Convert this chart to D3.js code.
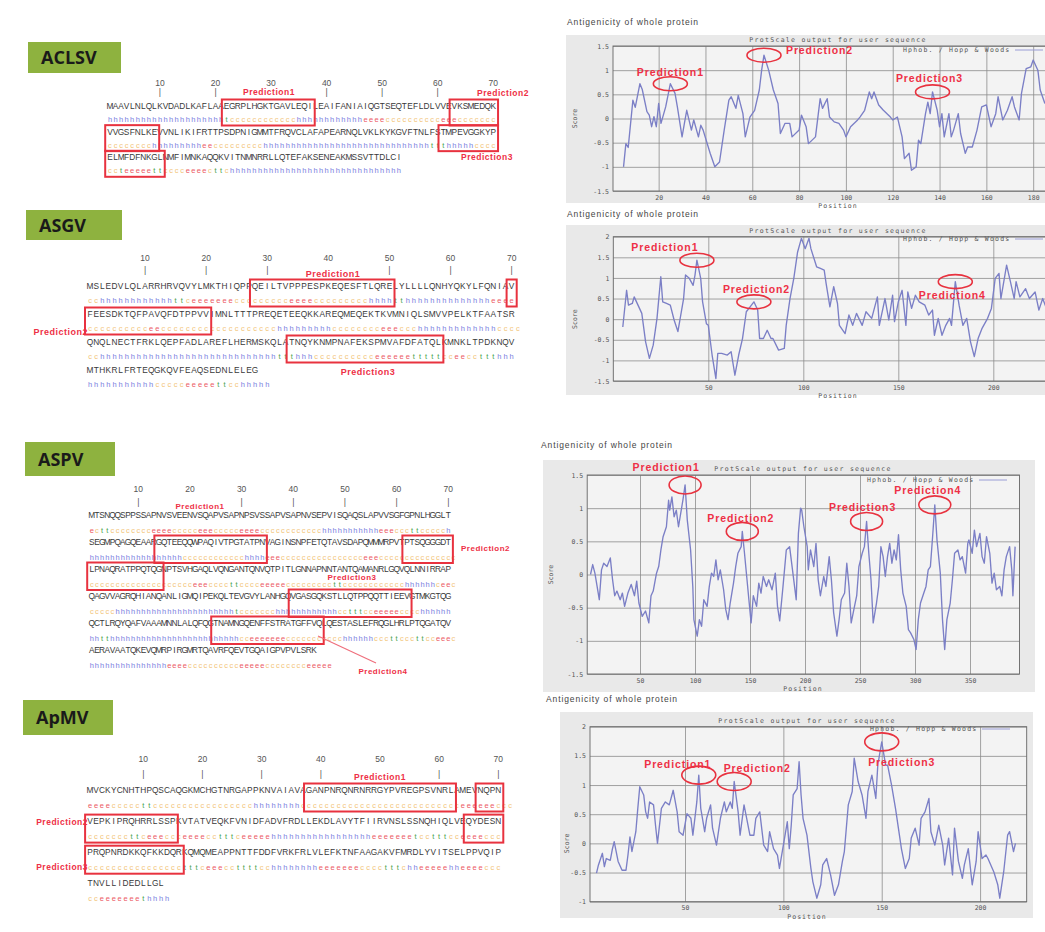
<!DOCTYPE html>
<html>
<head>
<meta charset="utf-8">
<script src="https://cdn.jsdelivr.net/npm/d3@7"></script>
<style>
  body { margin: 0; background: #fff; }
  svg { display: block; }
  .seq { font-family: "Liberation Sans", Arial, sans-serif; font-size: 8.3px; fill: #383838; text-anchor: middle; }
  .ss { font-family: "Liberation Sans", Arial, sans-serif; font-size: 7.5px; text-anchor: middle; }
  .ruler { font-family: "Liberation Sans", Arial, sans-serif; font-size: 8.5px; fill: #555; text-anchor: middle; }
  .tag { font-family: "Open Sans", "Liberation Sans", sans-serif; font-weight: bold; font-size: 18px; fill: #1a1a1a; }
  .pred { font-family: "Liberation Sans", Arial, sans-serif; font-weight: bold; fill: #ee3046; }
  .ttl { font-family: "Liberation Sans", Arial, sans-serif; font-size: 8.5px; fill: #444; letter-spacing: 0.9px; }
  .mono { font-family: "DejaVu Sans Mono", monospace; font-size: 6.5px; fill: #555; }
</style>
</head>
<body>
<div id="chart"></div>
<script>
var width = 1045,
    height = 932;

var svg = d3.select("#chart")
  .append("svg")
  .attr("width", width)
  .attr("height", height);

// ---------------- data ----------------

var virusNames = ["ACLSV", "ASGV", "ASPV", "ApMV"];
var predNames = ["Prediction1", "Prediction2", "Prediction3", "Prediction4"];

// sequences (70 residues per row) + SOPMA-like secondary structure
var aclsvSeq = [
  "MAAVLNLQLKVDADLKAFLAAEGRPLHGKTGAVLEQILEAIFANIAIQGTSEQTEFLDLVVEVKSMEDQK",
  "VVGSFNLKEVVNLIKIFRTTPSDPNIGMMTFRQVCLAFAPEARNQLVKLKYKGVFTNLFSTMPEVGGKYP",
  "ELMFDFNKGLNMFIMNKAQQKVITNMNRRLLQTEFAKSENEAKMSSVTTDLCI"
];
var aclsvSS = [
  "hhhhhhhhhhhhhhhhhhhhhtcccccccccccchhhhhhhhhhhheeeecccccccccceeeccccccc",
  "cccccccchhhhhhhhheeccccccccchhhhhhhhhhhhhhhhhhhhhhhhhhhhhhttthhhhhcccc",
  "ccteeeeettcccceeeecttchhhhhhhhhhhhhhhhhhhhhhhhhhhhhhh"
];
var asgvSeq = [
  "MSLEDVLQLARRHRVQVYLMKTHIQPPQEILTVPPPESPKEQESFTLQRELYLLLLQNHYQKYLFQNIAV",
  "FEESDKTQFPAVQFDTPPVVIMNLTTTPREQETEEQKKAREQMEQEKTKVMNIQLSMVVPELKTFAATSR",
  "QNQLNECTFRKLQEPFADLAREFLHERMSKQLATNQYKNMPNAFEKSPMVAFDFATQLKMNKLTPDKNQV",
  "MTHKRLFRTEQGKQVFEAQSEDNLELEG"
];
var asgvSS = [
  "cchhhhhhhhhhhhttceeeeeeeccccccccceeeeccccccccchhhhtthhhhhhhhhhhhhheeee",
  "cccccccccceeccccccccccccccccccchhhhhhhhhcccccccceeeccchhhhhhhhhhhhhcccc",
  "cchhhhhhhhhhhhhhhhhhhhhhhhhhhhhttthhhcccccccccceeeeeetttttcceeccttthhh",
  "hhhhhhhhhhhccccceeeeettcchhhhh"
];
var aspvSeq = [
  "MTSNQQSPPSSAPNVSVEENVSQAPVSAPNPSVSSAPVSAPNVSEPVISQAQSLAPVVSGFGPNLHGGLT",
  "SEGMPQAGQEAARGQTEEQQWPAQIVTPGTATPNVAGINSNPFETQTAVSDAPQMMMRPVTPTSQGGGDT",
  "LPNAQRATPPQTQGNPTSVHGAQLVQNGANTQNVQTPITLGNNAPNNTANTQAMANRLGQVQLNNIRRAP",
  "QAGVVAGRQHIANQANLIGMQIPEKQLTEVGVYLANHGQVGASGQKSTLLQTPPQQTTIEEVGTMKGTQG",
  "QCTLRQYQAFVAAAMNNLALQFQGTNAMNGQENFFSTRATGFFVQLQESTASLEFRQGLHRLPTQGATQV",
  "AERAVAATQKEVQMRPIRGMRTQAVRFQEVTGQAIGPVPVLSRK"
];
var aspvSS = [
  "ecttcccccccceeeeccccceeeccccceeeecccccccccccchhhhhhhhhhheeecccttccccch",
  "hhhhhhhhhhhhhhhhhhcccccccccccchhhheeecccccccccccccccceeeccccccccccccccc",
  "cccccccccccccccccccceeeccccttcccceeeeecccccccccttcccccccccccchhhhhhceec",
  "ccccchhhhhhhhhhhhhhhhhhhhhhhtccccccchhhhhhhhhhhhcctttcceeeeecccchhhhhh",
  "hhtthhhhhhhhhhhhhhhhhhhhhhhhhcceeeeeeeccccccccccchhhhhhcccttcccttcceeec",
  "hhhhhhhhhhhhhhheeeecccccccccceeeeecccccccceeeee"
];
var apmvSeq = [
  "MVCKYCNHTHPQSCAQGKMCHGTNRGAPPKNVAIAVAGANPNRQNRNRRGYPVREGPSVNRLAMEVNQPN",
  "VEPKIPRQHRRLSSPKVTATVEQKFVNIDFADVFRDLLEKDLAVYTFIIRVNSLSSNQHIQLVEQYDESN",
  "PRQPNRDKKQFKKDQRKQMQMEAPPNTTFDDFVRKFRLVLEFKTNFAAGAKVFMRDLYVITSELPPVQIP",
  "TNVLLIDEDLLGL"
];
var apmvSS = [
  "eeeecccccttccccccccccccccccchhhhhhhhccccccccccccccccccccccccccceeeeeeccc",
  "cccccccttceeeccceeeecctttceeeeehhhhhhhhhhhhhhhhheeeeeeetcctttcceeeeccc",
  "cccccccccccccccctttceeeccttttcchhhhhhhheeeeeeecccctttchheeeeehheeeeccc",
  "cceeeeeeethhhh"
];

// predicted epitope stretches (residue numbers)
var aclsvRanges = [[22, 37], [63, 79], [131, 150]];
var asgvRanges = [[28, 50], [70, 90], [174, 198]];
var aspvRanges = [[84, 104], [132, 154], [250, 272], [305, 325]];
var apmvRanges = [[38, 62], [67, 85], [135, 156]];

// Hopp & Woods profiles [position, score]
var aclsvProfile = [[5,-1.0],[6,-0.52],[7,-0.6],[9,0.38],[10,0.23],[12,0.72],[13,0.6],[15,0.14],[16,0.07],[17,-0.17],[18,0.04],[19,-0.17],[20,0.31],[21,-0.1],[23,0.24],[25,0.72],[27,0.52],[28,0.24],[30,-0.38],[31,-0.1],[32,0.17],[34,-0.24],[35,-0.03],[37,-0.38],[38,-0.14],[39,-0.24],[42,-0.72],[44,-1.0],[46,-0.9],[48,-0.24],[50,0.38],[51,0.45],[53,0.21],[54,0.48],[56,0.1],[57,-0.38],[59,0.03],[61,0.17],[63,0.59],[64,1.0],[65,1.31],[67,1.0],[69,0.59],[71,0.31],[72,-0.31],[74,-0.1],[76,-0.1],[77,-0.38],[80,-0.24],[81,0.07],[83,-0.17],[84,-0.52],[87,-0.38],[89,0.41],[90,0.21],[92,0.41],[93,0.03],[95,-0.07],[97,-0.1],[99,-0.24],[100,-0.38],[102,-0.17],[105,-0.03],[106,0.03],[108,0.17],[110,0.55],[111,0.41],[112,0.55],[114,0.28],[116,0.17],[119,0.03],[120,-0.03],[122,0.03],[124,-0.38],[125,-0.83],[127,-0.72],[128,-1.07],[130,-1.0],[131,-0.45],[132,-0.52],[134,0.1],[135,0.34],[136,0.1],[137,0.55],[139,0.17],[140,-0.17],[141,0.1],[142,-0.38],[144,0.1],[145,-0.38],[146,-0.24],[148,0.1],[149,-0.31],[151,-0.72],[152,-0.59],[154,-0.59],[156,-0.24],[158,0.24],[160,0.28],[162,-0.17],[164,0.1],[165,0.45],[167,-0.03],[169,0.17],[171,0.45],[172,0.24],[174,-0.03],[175,0.52],[177,1.03],[179,1.07],[180,1.21],[182,1.0],[183,0.59],[185,0.31]];
var asgvProfile = [[5,-0.19],[7,0.70],[8,0.34],[10,0.38],[11,0.54],[13,0.34],[15,0.14],[17,-0.55],[19,-0.95],[21,-0.63],[23,0.02],[25,1.03],[26,0.42],[28,0.38],[30,0.34],[32,-0.02],[34,-0.30],[37,0.50],[38,1.07],[40,0.99],[42,0.82],[43,1.07],[44,1.43],[46,0.99],[47,0.42],[49,-0.11],[50,-0.15],[52,-0.87],[54,-1.44],[55,-0.83],[57,-0.83],[60,-0.87],[62,-0.79],[64,-1.36],[66,-0.87],[68,-0.47],[70,0.18],[72,0.30],[74,0.42],[76,0.22],[77,-0.47],[79,-0.47],[81,-0.27],[83,-0.47],[84,-0.47],[87,-0.75],[90,-0.71],[91,-0.15],[93,0.50],[95,0.99],[97,1.63],[99,1.96],[101,1.71],[103,1.96],[104,1.71],[107,1.27],[109,1.23],[111,1.19],[112,0.87],[114,0.30],[116,0.79],[118,0.38],[119,-0.15],[122,-0.35],[124,0.10],[126,-0.15],[128,0.14],[131,-0.15],[133,0.18],[136,0.02],[139,0.54],[140,-0.15],[143,0.50],[145,-0.02],[147,0.58],[148,-0.06],[150,0.42],[152,0.70],[154,-0.15],[155,0.66],[157,0.26],[159,0.58],[161,0.42],[164,0.34],[166,0.10],[168,0.22],[169,-0.39],[171,0.02],[173,-0.39],[175,-0.15],[177,0.02],[178,-0.15],[180,0.91],[182,0.34],[184,-0.15],[186,0.02],[188,-0.55],[190,-0.91],[192,-0.47],[194,-0.23],[197,0.02],[199,0.26],[201,0.99],[203,1.11],[204,0.50],[207,1.31],[209,0.91],[211,0.50],[212,0.91],[214,0.54],[217,0.74],[219,0.50],[222,0.66],[224,0.22],[226,0.50],[228,0.26]];
var aspvProfile = [[5,0],[7,0.15],[9,0.02],[11,-0.18],[13,-0.38],[15,0.07],[17,0.17],[20,0.12],[23,0.25],[25,-0.07],[27,-0.32],[29,-0.25],[32,-0.38],[34,-0.28],[36,-0.48],[39,-0.28],[42,-0.15],[45,-0.32],[47,-0.10],[49,-0.43],[52,-0.63],[55,-0.55],[58,-0.73],[60,-0.32],[62,-0.25],[65,0.02],[67,0.12],[69,0.37],[71,0.57],[74,0.72],[76,1.12],[77,0.97],[79,1.17],[81,0.87],[83,0.97],[85,0.72],[87,0.92],[89,1.12],[91,1.35],[93,0.82],[96,0.37],[98,-0.18],[99,-0.68],[102,-0.93],[104,-0.68],[106,-0.78],[108,-0.38],[111,-0.48],[113,-0.18],[115,0.02],[117,-0.03],[119,0.22],[121,-0.08],[123,0.07],[126,-0.23],[128,-0.53],[130,-0.68],[132,-0.43],[135,-0.13],[137,0.12],[139,0.32],[142,0.42],[143,0.65],[145,0.32],[147,-0.03],[149,-0.38],[151,-0.73],[153,-0.32],[156,-0.48],[158,-0.13],[160,-0.28],[162,-0.03],[165,-0.18],[167,-0.08],[170,-0.23],[173,0.02],[175,-0.48],[177,-0.70],[180,-0.18],[183,0.37],[186,0.42],[189,0.02],[192,-0.38],[194,0.62],[196,1.0],[197,0.97],[199,0.72],[202,0.42],[203,0.07],[205,0.37],[208,0.12],[210,0.47],[212,-0.08],[214,-0.32],[217,-0.03],[219,-0.18],[222,0.27],[224,-0.08],[226,-0.57],[229,-0.93],[231,-0.68],[233,-0.38],[236,-0.28],[238,0.17],[240,-0.18],[242,-0.73],[245,-0.48],[247,-0.32],[249,0.12],[252,0.32],[254,0.42],[256,0.80],[258,0.32],[260,-0.08],[262,-0.73],[265,-0.43],[267,-0.18],[269,0.42],[271,0.27],[273,-0.03],[275,0.27],[277,0.47],[279,0.17],[281,0.37],[283,0.22],[285,0.60],[287,0.07],[289,-0.28],[292,-0.48],[294,-0.83],[296,-0.88],[299,-0.98],[301,-1.13],[303,-0.68],[305,-0.43],[308,-0.28],[310,-0.18],[312,0.07],[314,0.12],[316,0.57],[318,1.05],[320,0.52],[323,0.02],[325,-0.68],[327,-1.13],[329,-0.68],[332,-0.43],[334,-0.08],[336,0.32],[339,0.37],[341,0.22],[343,0.27],[346,0.02],[348,0.47],[349,0.52],[352,0.32],[354,0.67],[356,0.42],[359,0.62],[361,0.27],[363,0.17],[365,0.57],[368,0.32],[370,-0.13],[372,0.02],[374,-0.23],[377,-0.18],[379,-0.32],[381,0.07],[383,0.27],[386,0.42],[388,0.07],[389,-0.32],[391,0.42]];
var apmvProfile = [[5,-0.51],[6,-0.37],[8,-0.17],[9,-0.40],[10,-0.26],[12,-0.29],[13,-0.11],[14,0.03],[16,-0.31],[18,-0.46],[20,-0.46],[21,-0.20],[22,0.11],[23,-0.14],[25,0.20],[26,0.60],[27,0.97],[29,0.83],[30,0.54],[31,0.43],[32,0.71],[34,0.66],[35,0.31],[36,0.00],[38,0.60],[40,0.71],[42,0.66],[44,0.91],[46,0.54],[47,0.20],[49,0.14],[51,0.51],[53,0.43],[54,0.14],[56,0.71],[57,1.17],[58,0.60],[60,0.20],[61,0.43],[63,0.66],[64,0.26],[66,-0.03],[68,0.43],[70,0.71],[71,0.54],[73,0.71],[74,0.60],[75,1.06],[77,0.54],[78,0.14],[80,0.66],[81,0.49],[83,0.14],[85,0.14],[86,0.43],[88,0.54],[90,-0.03],[92,-0.14],[93,0.20],[95,-0.09],[97,-0.20],[98,-0.43],[100,-0.03],[102,0.37],[103,-0.09],[104,0.31],[105,0.83],[107,0.94],[108,1.40],[109,0.83],[110,0.43],[112,0.14],[114,-0.43],[115,-0.66],[117,-0.94],[119,-0.71],[120,-0.37],[122,-0.26],[124,-0.54],[126,-0.89],[128,-0.71],[130,-0.31],[131,-0.14],[133,0.66],[135,0.89],[136,1.46],[138,1.06],[140,0.83],[142,0.43],[143,0.89],[145,1.17],[147,0.77],[148,1.34],[150,1.74],[152,1.34],[153,1.34],[155,1.0],[157,0.60],[159,0.14],[160,-0.09],[162,-0.43],[164,-0.26],[165,0.09],[167,0.26],[169,-0.03],[170,0.43],[172,0.54],[174,0.77],[175,0.20],[177,-0.03],[179,0.31],[181,-0.03],[182,-0.37],[184,0.09],[186,-0.54],[187,0.26],[189,-0.31],[191,-0.60],[192,-0.37],[194,-0.09],[196,-0.71],[198,-0.31],[199,0.20],[201,-0.26],[203,-0.20],[204,-0.26],[207,-0.49],[209,-0.71],[210,-0.94],[212,-0.49],[214,0.14],[215,0.20],[217,-0.14],[218,0.00]];

// positions of the circled peaks
var aclsvPeaks = [25, 65, 137];
var aclsvPeakNames = ["Prediction1", "Prediction2", "Prediction3"];
var asgvPeaks = [44, 74, 180];
var asgvPeakNames = ["Prediction1", "Prediction2", "Prediction4"];
var aspvPeaks = [91, 143, 256, 318];
var aspvPeakNames = ["Prediction1", "Prediction2", "Prediction3", "Prediction4"];
var apmvPeaks = [57, 75, 150];
var apmvPeakNames = ["Prediction1", "Prediction2", "Prediction3"];

// axis ticks
var aclsvXTicks = [20, 40, 60, 80, 100, 120, 140, 160, 180];
var aclsvYTicks = [-1.5, -1, -0.5, 0, 0.5, 1, 1.5];
var asgvXTicks = [50, 100, 150, 200];
var asgvYTicks = [-1.5, -1, -0.5, 0, 0.5, 1, 1.5, 2];
var aspvXTicks = [50, 100, 150, 200, 250, 300, 350];
var aspvYTicks = [-1.5, -1, -0.5, 0, 0.5, 1, 1.5];
var apmvXTicks = [50, 100, 150, 200];
var apmvYTicks = [-1, -0.5, 0, 0.5, 1, 1.5, 2];

var rulerTicks = [10, 20, 30, 40, 50, 60, 70];

// ---------------- drawing ----------------

var ssColor = { h: "#7a7ee0", e: "#ec5a66", c: "#f2c478", t: "#49a34b" };
var red = "#e8323f";

function drawSeqPanel(cfg) {
  var g = svg.append("g");

  // green name tag
  g.append("rect")
    .attr("x", cfg.tag[0]).attr("y", cfg.tag[1])
    .attr("width", cfg.tag[2]).attr("height", cfg.tag[3])
    .attr("fill", "#8eb23f");
  g.append("text")
    .attr("class", "tag")
    .attr("x", cfg.tag[0] + 13)
    .attr("y", cfg.tag[1] + cfg.tag[3] / 2 + 6.5)
    .text(cfg.name);

  var cx = function(i) { return cfg.x0 + (i + 0.5) * cfg.cw; };

  // label extents, so the ruler bars that sit under a label are left out (as in the figure)
  var labelW = 11 * cfg.labelSize * 0.66;
  var extents = cfg.labels.map(function(l) {
    var x0 = l[2] === "middle" ? l[0] - labelW / 2 : (l[2] === "end" ? l[0] - labelW : l[0]);
    return [x0, x0 + labelW, l[1]];
  });
  var hidden = function(d) {
    var bx = cx(d - 1);
    return extents.some(function(e) {
      return bx > e[0] - 3 && bx < e[1] + 3 && Math.abs(e[2] - cfg.barY) < 9;
    });
  };

  g.selectAll(".num").data(rulerTicks).enter().append("text")
    .attr("class", "ruler")
    .attr("x", function(d) { return cx(d - 1); })
    .attr("y", cfg.numY)
    .text(function(d) { return d; });
  g.selectAll(".bar").data(rulerTicks.filter(function(d) { return !hidden(d); })).enter().append("text")
    .attr("class", "ruler")
    .attr("x", function(d) { return cx(d - 1); })
    .attr("y", cfg.barY)
    .text("|");

  cfg.seq.forEach(function(row, r) {
    var y = cfg.rowY + r * cfg.pitch;
    g.append("g").selectAll("text")
      .data(row.split(""))
      .enter().append("text")
      .attr("class", "seq")
      .attr("x", function(d, i) { return cx(i); })
      .attr("y", y)
      .text(function(d) { return d; });
    g.append("g").selectAll("text")
      .data(cfg.ss[r].split(""))
      .enter().append("text")
      .attr("class", "ss")
      .attr("x", function(d, i) { return cx(i); })
      .attr("y", y + cfg.annOff)
      .attr("fill", function(d) { return ssColor[d]; })
      .text(function(d) { return d; });
  });

  // red boxes, split over rows
  cfg.ranges.forEach(function(rg) {
    var r0 = Math.floor((rg[0] - 1) / 70), r1 = Math.floor((rg[1] - 1) / 70);
    for (var r = r0; r <= r1; r++) {
      var a = Math.max(rg[0], r * 70 + 1) - r * 70,
          b = Math.min(rg[1], (r + 1) * 70) - r * 70;
      var y = cfg.rowY + r * cfg.pitch;
      g.append("rect")
        .attr("x", cfg.x0 + (a - 1) * cfg.cw - 2)
        .attr("y", y - 9.5)
        .attr("width", (b - a + 1) * cfg.cw + 4)
        .attr("height", 9.5 + cfg.annOff + 3.5)
        .attr("fill", "none")
        .attr("stroke", red)
        .attr("stroke-width", 2);
    }
  });

  if (cfg.pointer) {
    g.append("line")
      .attr("x1", cfg.pointer[0]).attr("y1", cfg.pointer[1])
      .attr("x2", cfg.pointer[2]).attr("y2", cfg.pointer[3])
      .attr("stroke", "#ef6f7c").attr("stroke-width", 1.2);
  }

  cfg.labels.forEach(function(l, i) {
    g.append("text")
      .attr("class", "pred")
      .attr("x", l[0]).attr("y", l[1])
      .attr("text-anchor", l[2])
      .style("font-size", cfg.labelSize + "px")
      .style("letter-spacing", "0.5px")
      .text(predNames[i]);
  });
}

function drawChart(cfg) {
  var g = svg.append("g");

  g.append("text")
    .attr("class", "ttl")
    .attr("x", cfg.titleX).attr("y", cfg.titleY)
    .text("Antigenicity of whole protein");

  g.append("rect")
    .attr("x", cfg.panel[0]).attr("y", cfg.panel[1])
    .attr("width", cfg.panel[2]).attr("height", cfg.panel[3])
    .attr("fill", "#e9e9e9");

  var x = d3.scaleLinear().domain(cfg.xDomain).range([cfg.plot[0], cfg.plot[1]]);
  var y = d3.scaleLinear().domain(cfg.yDomain).range([cfg.plot[3], cfg.plot[2]]);
  var pw = cfg.plot[1] - cfg.plot[0], ph = cfg.plot[3] - cfg.plot[2];

  g.append("rect")
    .attr("x", cfg.plot[0]).attr("y", cfg.plot[2])
    .attr("width", pw).attr("height", ph)
    .attr("fill", "#f3f3f3");

  // grid via the axes
  var gx = g.append("g")
    .attr("transform", "translate(0," + cfg.plot[3] + ")")
    .call(d3.axisBottom(x).tickValues(cfg.xTicks).tickSize(-ph).tickPadding(4)
      .tickFormat(function(d) { return String(d); }));
  var gy = g.append("g")
    .attr("transform", "translate(" + cfg.plot[0] + ",0)")
    .call(d3.axisLeft(y).tickValues(cfg.yTicks).tickSize(-pw).tickPadding(4)
      .tickFormat(function(d) { return String(d); }));
  [gx, gy].forEach(function(a) {
    a.select(".domain").remove();
    a.selectAll("line").attr("stroke", "#8c8c8c").attr("stroke-width", 0.8);
    a.selectAll("text").attr("class", "mono").attr("fill", "#555");
  });

  g.append("clipPath").attr("id", "clip-" + cfg.id)
    .append("rect")
    .attr("x", cfg.plot[0]).attr("y", cfg.plot[2])
    .attr("width", pw).attr("height", ph);

  var line = d3.line()
    .x(function(d) { return x(d[0]); })
    .y(function(d) { return y(d[1]); });

  g.append("path")
    .datum(cfg.data)
    .attr("clip-path", "url(#clip-" + cfg.id + ")")
    .attr("d", line)
    .attr("fill", "none")
    .attr("stroke", "#7b7fc6")
    .attr("stroke-width", 1.35)
    .attr("stroke-linejoin", "round");

  g.append("rect")
    .attr("x", cfg.plot[0]).attr("y", cfg.plot[2])
    .attr("width", pw).attr("height", ph)
    .attr("fill", "none")
    .attr("stroke", "#666")
    .attr("stroke-width", 0.9);

  // protscale texts
  g.append("text").attr("class", "mono")
    .attr("x", cfg.midX).attr("y", cfg.plot[2] - 4)
    .attr("text-anchor", "middle")
    .style("letter-spacing", "1.3px")
    .text("ProtScale output for user sequence");
  g.append("text").attr("class", "mono")
    .attr("x", cfg.midX).attr("y", cfg.plot[3] + 17)
    .attr("text-anchor", "middle")
    .style("letter-spacing", "1px")
    .text("Position");
  g.append("text").attr("class", "mono")
    .attr("transform", "translate(" + cfg.scoreX + "," + y(0) + ") rotate(-90)")
    .attr("text-anchor", "middle")
    .text("Score");
  g.append("text").attr("class", "mono")
    .attr("x", cfg.legend[0]).attr("y", cfg.legend[1])
    .style("letter-spacing", "1.2px")
    .text("Hphob. / Hopp & Woods");
  g.append("line")
    .attr("x1", cfg.legend[0] + 112).attr("x2", cfg.legend[0] + 140)
    .attr("y1", cfg.legend[1] - 2).attr("y2", cfg.legend[1] - 2)
    .attr("stroke", "#9a9dd6").attr("stroke-width", 1);

  // circled peaks
  var lookup = new Map(cfg.data);
  cfg.peaks.forEach(function(p, i) {
    var ex = x(p), ey = y(lookup.get(p));
    g.append("ellipse")
      .attr("cx", ex).attr("cy", ey)
      .attr("rx", cfg.rx).attr("ry", cfg.ry)
      .attr("fill", "none")
      .attr("stroke", red)
      .attr("stroke-width", 1.6);
    var o = cfg.labelOff[i];
    g.append("text")
      .attr("class", "pred")
      .attr("x", ex + o[0]).attr("y", ey + o[1])
      .attr("text-anchor", o[2])
      .style("font-size", "10.5px")
      .style("letter-spacing", "0.9px")
      .text(cfg.peakNames[i]);
  });
}

// ---- left column: sequences ----
drawSeqPanel({
  name: virusNames[0], tag: [28, 42, 93, 31],
  x0: 107.2, cw: 5.555, numY: 86, barY: 95, rowY: 109, pitch: 25.65, annOff: 13,
  seq: aclsvSeq, ss: aclsvSS, ranges: aclsvRanges, labelSize: 8.5,
  labels: [[269, 95, "middle"], [503, 96, "middle"], [487, 160, "middle"]]
});
drawSeqPanel({
  name: virusNames[1], tag: [26, 210, 96, 30],
  x0: 87, cw: 6.11, numY: 261, barY: 273, rowY: 289, pitch: 28, annOff: 14,
  seq: asgvSeq, ss: asgvSS, ranges: asgvRanges, labelSize: 9,
  labels: [[333, 276.5, "middle"], [88, 334.5, "end"], [368, 375, "middle"]]
});
drawSeqPanel({
  name: virusNames[2], tag: [25, 442, 90, 34],
  x0: 89.2, cw: 5.167, numY: 491.5, barY: 505, rowY: 518, pitch: 27, annOff: 14.5,
  seq: aspvSeq, ss: aspvSS, ranges: aspvRanges, labelSize: 8,
  pointer: [318, 636, 376, 663],
  labels: [[200, 509, "middle"], [461, 551, "start"], [352, 580, "middle"], [383, 674, "middle"]]
});
drawSeqPanel({
  name: virusNames[3], tag: [23, 700, 90, 35],
  x0: 87.1, cw: 5.917, numY: 761.5, barY: 776.5, rowY: 793, pitch: 31.1, annOff: 15,
  seq: apmvSeq, ss: apmvSS, ranges: apmvRanges, labelSize: 8.5,
  labels: [[380, 779.5, "middle"], [88, 825, "end"], [88, 870, "end"]]
});

// ---- right column: antigenicity plots ----
drawChart({
  id: "aclsv", titleX: 567, titleY: 25,
  panel: [566, 35, 480, 168], plot: [613, 1080, 46, 191],
  xDomain: [0.5, 200], yDomain: [-1.5, 1.5],
  xTicks: aclsvXTicks, yTicks: aclsvYTicks, data: aclsvProfile,
  midX: 838, scoreX: 577, legend: [903, 52],
  peaks: aclsvPeaks, peakNames: aclsvPeakNames, rx: 17, ry: 7,
  labelOff: [[0, -8, "middle"], [22, -1.5, "start"], [-3, -10, "middle"]]
});
drawChart({
  id: "asgv", titleX: 567, titleY: 217,
  panel: [566, 225, 480, 170], plot: [613.3, 1088.3, 236.7, 381],
  xDomain: [0, 250], yDomain: [-1.5, 2],
  xTicks: asgvXTicks, yTicks: asgvYTicks, data: asgvProfile,
  midX: 838, scoreX: 577, legend: [903, 241],
  peaks: asgvPeaks, peakNames: asgvPeakNames, rx: 17, ry: 7,
  labelOff: [[-32, -9, "middle"], [2.6, -9, "middle"], [-3, 17.5, "middle"]]
});
drawChart({
  id: "aspv", titleX: 541, titleY: 448,
  panel: [543, 460, 492, 232], plot: [587.2, 1019.5, 475, 674],
  xDomain: [2, 395], yDomain: [-1.5, 1.5],
  xTicks: aspvXTicks, yTicks: aspvYTicks, data: aspvProfile,
  midX: 803, scoreX: 553, legend: [867, 482],
  peaks: aspvPeaks, peakNames: aspvPeakNames, rx: 16, ry: 9,
  labelOff: [[-19, -13.5, "middle"], [-1.5, -9, "middle"], [-4, -10, "middle"], [-7, -11, "middle"]]
});
drawChart({
  id: "apmv", titleX: 546, titleY: 702,
  panel: [560, 712, 473, 206], plot: [590, 1026.7, 726.7, 901.7],
  xDomain: [1.7, 223.7], yDomain: [-1, 2],
  xTicks: apmvXTicks, yTicks: apmvYTicks, data: apmvProfile,
  midX: 807, scoreX: 569, legend: [870, 731],
  peaks: apmvPeaks, peakNames: apmvPeakNames, rx: 17, ry: 9,
  labelOff: [[-21, -7.5, "middle"], [23, -9.5, "middle"], [20, 24, "middle"]]
});
</script>
</body>
</html>
